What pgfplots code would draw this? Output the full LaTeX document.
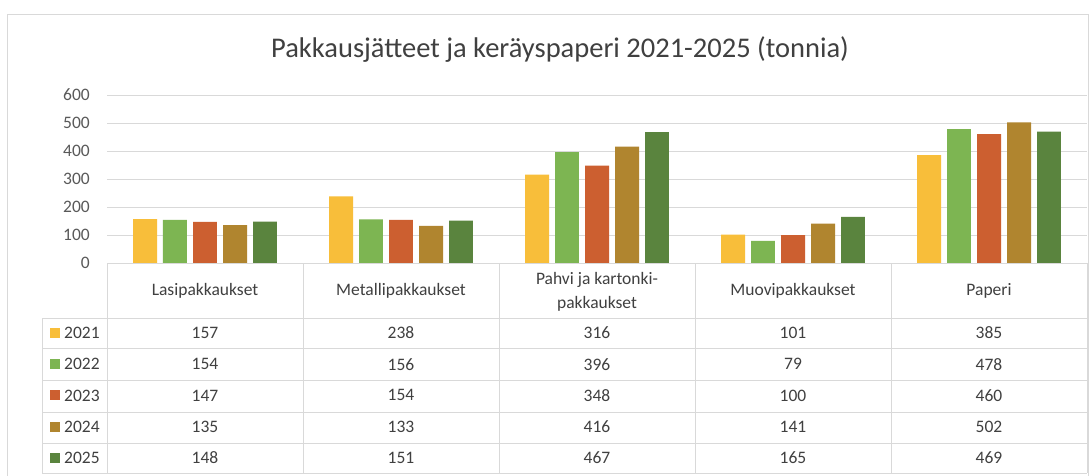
\documentclass[border=0pt]{standalone}
\usepackage{pgfplots}
\usepackage{pgfplotstable}
\pgfplotsset{compat=1.18}
\usepackage{fontspec}
\setmainfont{Carlito}
\definecolor{c2021}{HTML}{F8BE3A}
\definecolor{c2022}{HTML}{7DB552}
\definecolor{c2023}{HTML}{CC5F30}
\definecolor{c2024}{HTML}{B0852F}
\definecolor{c2025}{HTML}{5A843E}
\definecolor{gridc}{HTML}{D9D9D9}
\definecolor{txt}{HTML}{404040}
\definecolor{tick}{HTML}{595959}
\pgfplotstableread{
idx y2021 y2022 y2023 y2024 y2025
0 157 154 147 135 148
1 238 156 154 133 151
2 316 396 348 416 467
3 101 79 100 141 165
4 385 478 460 502 469
}\datatable
\begin{document}
\begin{tikzpicture}[x=1pt,y=1pt]
\path[use as bounding box, fill=white] (0,0) rectangle (1092,-475);
\draw[gridc, line width=0.8pt] (7,-480) -- (7,-14) -- (1088,-14) -- (1088,-480);
\node[text=txt, font=\fontsize{28.5}{32}\selectfont] at (560,-50) {Pakkausjätteet ja keräyspaperi 2021-2025 (tonnia)};
\begin{axis}[
  at={(107pt,-263pt)}, anchor=south west,
  scale only axis, width=980pt, height=168pt,
  xmin=-0.5, xmax=4.5, ymin=0, ymax=600,
  ytick={0,100,...,600}, xtick=\empty,
  axis line style={draw=none},
  major tick length=0pt,
  ymajorgrids, grid style={gridc, line width=0.8pt},
  yticklabel style={font=\fontsize{17.5}{20}\selectfont, text=tick, inner sep=0pt, anchor=east, xshift=-17pt},
  /pgf/number format/assume math mode=true,
  ybar, bar width=0.1224, bar shift=0pt,
  clip=false,
]
\addplot[draw=none, fill=c2021] table[x expr=\coordindex-0.3061, y=y2021] {\datatable};
\addplot[draw=none, fill=c2022] table[x expr=\coordindex-0.1531, y=y2022] {\datatable};
\addplot[draw=none, fill=c2023] table[x expr=\coordindex, y=y2023] {\datatable};
\addplot[draw=none, fill=c2024] table[x expr=\coordindex+0.1531, y=y2024] {\datatable};
\addplot[draw=none, fill=c2025] table[x expr=\coordindex+0.3061, y=y2025] {\datatable};
\end{axis}
% data table grid
\draw[gridc, line width=0.8pt] (107,-263) -- (1087,-263);
\foreach \yy in {-318,-348.5,-380,-412,-443,-473}
  \draw[gridc, line width=0.8pt] (42,\yy) -- (1087,\yy);
\foreach \xx in {107,303,499,695,891,1087}
  \draw[gridc, line width=0.8pt] (\xx,-263) -- (\xx,-473);
\draw[gridc, line width=0.8pt] (42,-318) -- (42,-473);
% header
\begin{scope}[every node/.style={text=txt, font=\fontsize{17.5}{24}\selectfont}]
\node at (205,-291) {Lasipakkaukset};
\node at (401,-291) {Metallipakkaukset};
\node[align=center] at (597,-292) {Pahvi ja kartonki-\\pakkaukset};
\node at (793,-291) {Muovipakkaukset};
\node at (989,-291) {Paperi};
\foreach \col/\lab/\c [count=\r from 0] in {y2021/2021/c2021,y2022/2022/c2022,y2023/2023/c2023,y2024/2024/c2024,y2025/2025/c2025}{
  \pgfmathsetmacro{\ry}{-333-31.2*\r}
  \fill[\c] (50,\ry-5) rectangle (60,\ry+5);
  \node[anchor=west, inner sep=0pt] at (64,\ry) {\lab};
  \foreach \i in {0,...,4}{
    \pgfplotstablegetelem{\i}{\col}\of\datatable
    \pgfmathsetmacro{\cx}{205+196*\i}
    \node at (\cx,\ry) {\pgfplotsretval};
  }
}
\end{scope}
\end{tikzpicture}
\end{document}
